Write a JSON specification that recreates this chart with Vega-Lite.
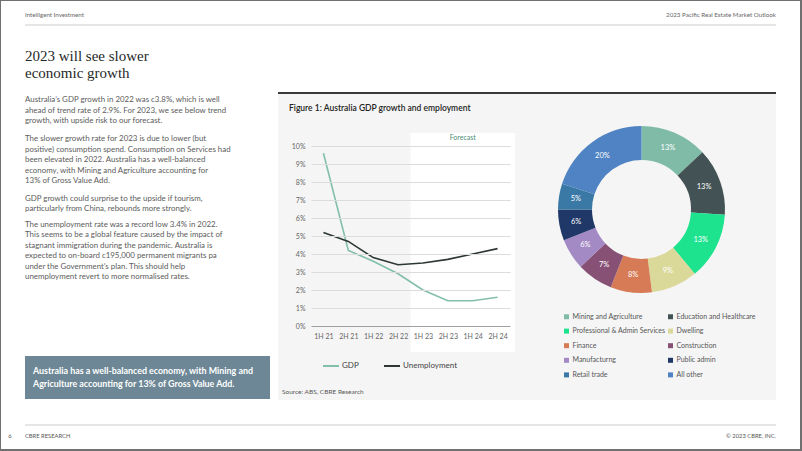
{
  "$schema": "https://vega.github.io/schema/vega-lite/v6.json",
  "background": "#f5f5f5",
  "padding": 0,
  "bounds": "full",
  "spacing": 0,
  "config": {
    "font": "Lato",
    "view": {"stroke": null, "fill": null},
    "title": {"anchor": "start", "frame": "group", "baseline": "top", "offset": 0, "color": "#5b5b5b", "fontWeight": "normal"}
  },
  "datasets": {
    "none": [],
    "note": [{"label": "Forecast"}],
    "header": [
      {"side": "left", "text": "Intelligent Investment"},
      {"side": "right", "text": "2023 Pacific Real Estate Market Outlook"}
    ],
    "footer": [
      {"side": "left", "role": "page", "text": "6"},
      {"side": "left", "role": "label", "text": "CBRE RESEARCH"},
      {"side": "right", "role": "label", "text": "© 2023 CBRE, INC."}
    ],
    "gdp": [
      {"idx": 0, "period": "1H 21", "series": "GDP", "value": 9.6},
      {"idx": 1, "period": "2H 21", "series": "GDP", "value": 4.2},
      {"idx": 2, "period": "1H 22", "series": "GDP", "value": 3.6},
      {"idx": 3, "period": "2H 22", "series": "GDP", "value": 2.9},
      {"idx": 4, "period": "1H 23", "series": "GDP", "value": 2.0},
      {"idx": 5, "period": "2H 23", "series": "GDP", "value": 1.4},
      {"idx": 6, "period": "1H 24", "series": "GDP", "value": 1.4},
      {"idx": 7, "period": "2H 24", "series": "GDP", "value": 1.6},
      {"idx": 0, "period": "1H 21", "series": "Unemployment", "value": 5.2},
      {"idx": 1, "period": "2H 21", "series": "Unemployment", "value": 4.7},
      {"idx": 2, "period": "1H 22", "series": "Unemployment", "value": 3.8},
      {"idx": 3, "period": "2H 22", "series": "Unemployment", "value": 3.4},
      {"idx": 4, "period": "1H 23", "series": "Unemployment", "value": 3.5},
      {"idx": 5, "period": "2H 23", "series": "Unemployment", "value": 3.7},
      {"idx": 6, "period": "1H 24", "series": "Unemployment", "value": 4.0},
      {"idx": 7, "period": "2H 24", "series": "Unemployment", "value": 4.3}
    ],
    "gva": [
      {"rank": 1, "sector": "Mining and Agriculture", "share": 0.13},
      {"rank": 2, "sector": "Education and Healthcare", "share": 0.13},
      {"rank": 3, "sector": "Professional & Admin Services", "share": 0.13},
      {"rank": 4, "sector": "Dwelling", "share": 0.09},
      {"rank": 5, "sector": "Finance", "share": 0.08},
      {"rank": 6, "sector": "Construction", "share": 0.07},
      {"rank": 7, "sector": "Manufacturng", "share": 0.06},
      {"rank": 8, "sector": "Public admin", "share": 0.06},
      {"rank": 9, "sector": "Retail trade", "share": 0.05},
      {"rank": 10, "sector": "All other", "share": 0.20}
    ]
  },
  "hconcat": [
    {"data": {"name": "none"}, "mark": "point", "width": 1, "height": 451, "view": {"fill": "#707070"}},
    {
      "spacing": 0, "bounds": "full",
      "vconcat": [
        {"data": {"name": "none"}, "mark": "point", "width": 799, "height": 1, "view": {"fill": "#707070"}},
        {
          "spacing": 0, "bounds": "flush",
          "hconcat": [
            {"data": {"name": "none"}, "mark": "point", "width": 24, "height": 23, "view": {"fill": "white"}},
            {
              "data": {"name": "header"}, "width": 751, "height": 23, "view": {"fill": "white"},
              "encoding": {"x": {"field": "side", "type": "nominal", "scale": {"type": "point", "domain": ["left", "right"], "padding": 0}, "axis": null}},
              "layer": [
                {"transform": [{"filter": "datum.side === 'left'"}], "mark": {"type": "text", "align": "left", "fontSize": 6.2, "color": "#666666", "dy": 2}, "encoding": {"text": {"field": "text"}}},
                {"transform": [{"filter": "datum.side === 'right'"}], "mark": {"type": "text", "align": "right", "fontSize": 6.2, "color": "#666666", "dy": 2}, "encoding": {"text": {"field": "text"}}}
              ]
            },
            {"data": {"name": "none"}, "mark": "point", "width": 24, "height": 23, "view": {"fill": "white"}}
          ]
        },
        {
          "spacing": 0, "bounds": "flush",
          "hconcat": [
            {"data": {"name": "none"}, "mark": "point", "width": 24, "height": 2, "view": {"fill": "white"}},
            {"data": {"name": "none"}, "mark": "point", "width": 751, "height": 2, "view": {"fill": "#e6e6e6"}},
            {"data": {"name": "none"}, "mark": "point", "width": 24, "height": 2, "view": {"fill": "white"}}
          ]
        },
        {
          "spacing": 0, "bounds": "full",
          "hconcat": [
            {"data": {"name": "none"}, "mark": "point", "width": 24, "height": 398, "view": {"fill": "white"}},
            {
              "spacing": 0, "bounds": "flush",
              "vconcat": [
                {"data": {"name": "none"}, "mark": "point", "width": 245, "height": 59, "view": {"fill": "white"}},
                {"data": {"name": "none"}, "mark": "point", "width": 245, "height": 44, "view": {"fill": "white"},
                 "title": {"text": ["2023 will see slower", "economic growth"], "font": "Liberation Serif", "fontSize": 15, "lineHeight": 16.6, "color": "#1f2a28"}},
                {"data": {"name": "none"}, "mark": "point", "width": 245, "height": 60, "view": {"fill": "white"},
                 "title": {"text": ["Australia’s GDP growth in 2022 was c3.8%, which is well", "ahead of trend rate of 2.9%. For 2023, we see below trend", "growth, with upside risk to our forecast."], "fontSize": 7.9, "lineHeight": 10.5}},
                {"data": {"name": "none"}, "mark": "point", "width": 245, "height": 28, "view": {"fill": "white"},
                 "title": {"text": ["The slower growth rate for 2023 is due to lower (but", "positive) consumption spend. Consumption on Services had", "been elevated in 2022. Australia has a well-balanced", "economy, with Mining and Agriculture accounting for", "13% of Gross Value Add."], "fontSize": 7.9, "lineHeight": 10.5}},
                {"data": {"name": "none"}, "mark": "point", "width": 245, "height": 68, "view": {"fill": "white"},
                 "title": {"text": ["GDP growth could surprise to the upside if tourism,", "particularly from China, rebounds more strongly."], "fontSize": 7.9, "lineHeight": 10.5}},
                {"data": {"name": "none"}, "mark": "point", "width": 245, "height": 71, "view": {"fill": "white"},
                 "title": {"text": ["The unemployment rate was a record low 3.4% in 2022.", "This seems to be a global feature caused by the impact of", "stagnant immigration during the pandemic. Australia is", "expected to on-board c195,000 permanent migrants pa", "under the Government’s plan. This should help", "unemployment revert to more normalised rates."], "fontSize": 7.9, "lineHeight": 10.5}},
                {"data": {"name": "none"}, "mark": "point", "width": 245, "height": 43, "view": {"fill": "#6d8796"},
                 "title": {"text": ["Australia has a well-balanced economy, with Mining and", "Agriculture accounting for 13% of Gross Value Add."], "fontSize": 8.9, "fontWeight": "bold", "lineHeight": 12.6, "color": "white", "dx": 8, "offset": -32.6}},
                {"data": {"name": "none"}, "mark": "point", "width": 245, "height": 25, "view": {"fill": "white"}}
              ]
            },
            {
              "spacing": 0, "bounds": "full",
              "vconcat": [
                {"data": {"name": "none"}, "mark": "point", "width": 506, "height": 66, "view": {"fill": "white"}},
                {
                  "spacing": 0, "bounds": "flush",
                  "hconcat": [
                    {"data": {"name": "none"}, "mark": "point", "width": 8, "height": 2, "view": {"fill": "white"}},
                    {"data": {"name": "none"}, "mark": "point", "width": 498, "height": 2, "view": {"fill": "#3a3a3a"}}
                  ]
                },
                {
                  "spacing": 0, "bounds": "flush",
                  "resolve": {"scale": {"color": "independent"}},
                  "hconcat": [
                    {"data": {"name": "none"}, "mark": "point", "width": 8, "height": 306, "view": {"fill": "white"}},
                    {"data": {"name": "none"}, "mark": "point", "width": 33, "height": 306,
                     "title": {"text": "Source: ABS, CBRE Research", "orient": "bottom", "fontSize": 6.5, "color": "#555555", "dx": 4, "offset": -11.5}},
                    {
                      "width": 199, "height": 258,
                      "title": {"text": "Figure 1: Australia GDP growth and employment", "fontSize": 8.5, "fontWeight": 600, "color": "#222222", "dx": -22, "offset": -18.5},
                      "layer": [
                        {
                          "data": {"name": "note"},
                          "mark": {"type": "rect", "color": "white"},
                          "encoding": {
                            "x": {"datum": 3.5, "type": "quantitative", "scale": {"domain": [-0.5, 7.5], "nice": false, "zero": false},
                                  "axis": {"values": [0, 1, 2, 3, 4, 5, 6, 7], "labelExpr": "['1H 21','2H 21','1H 22','2H 22','1H 23','2H 23','1H 24','2H 24'][datum.value]", "title": null, "grid": false, "domain": false, "ticks": false, "offset": -26, "labelPadding": 6, "labelFontSize": 7, "labelColor": "#666666", "zindex": 1}},
                            "x2": {"datum": 7.7},
                            "y": {"datum": 10.72, "type": "quantitative", "scale": {"domain": [-1.444, 12.889], "nice": false, "zero": false},
                                  "axis": {"values": [0, 1, 2, 3, 4, 5, 6, 7, 8, 9, 10], "labelExpr": "datum.value + '%'", "title": null, "domain": false, "ticks": false, "grid": true, "gridColor": {"condition": {"test": "datum.value === 0", "value": "#a0a0a0"}, "value": "#dcdcdc"}, "labelPadding": 6, "labelFontSize": 7, "labelColor": "#666666", "zindex": 1}},
                            "y2": {"datum": -1.444}
                          }
                        },
                        {
                          "data": {"name": "gdp"},
                          "mark": {"type": "line", "strokeWidth": 1.6},
                          "encoding": {
                            "x": {"field": "idx", "type": "quantitative", "scale": {"domain": [-0.5, 7.5], "nice": false, "zero": false},
                                  "axis": {"values": [0, 1, 2, 3, 4, 5, 6, 7], "labelExpr": "['1H 21','2H 21','1H 22','2H 22','1H 23','2H 23','1H 24','2H 24'][datum.value]", "title": null, "grid": false, "domain": false, "ticks": false, "offset": -26, "labelPadding": 6, "labelFontSize": 7, "labelColor": "#666666", "zindex": 1}},
                            "y": {"field": "value", "type": "quantitative", "scale": {"domain": [-1.444, 12.889], "nice": false, "zero": false},
                                  "axis": {"values": [0, 1, 2, 3, 4, 5, 6, 7, 8, 9, 10], "labelExpr": "datum.value + '%'", "title": null, "domain": false, "ticks": false, "grid": true, "gridColor": {"condition": {"test": "datum.value === 0", "value": "#a0a0a0"}, "value": "#dcdcdc"}, "labelPadding": 6, "labelFontSize": 7, "labelColor": "#666666", "zindex": 1}},
                            "color": {"field": "series", "type": "nominal", "scale": {"domain": ["GDP", "Unemployment"], "range": ["#82bfab", "#2d3836"]},
                                      "legend": {"orient": "bottom", "direction": "horizontal", "title": null, "symbolType": "stroke", "symbolStrokeWidth": 2, "symbolSize": 256, "labelFontSize": 8, "labelColor": "#444444", "labelOffset": 2, "columnPadding": 21, "padding": 11, "offset": -6}}
                          }
                        },
                        {
                          "data": {"name": "note"},
                          "mark": {"type": "text", "fontSize": 7, "color": "#4a8d78", "align": "center"},
                          "encoding": {
                            "x": {"datum": 5.6, "type": "quantitative", "scale": {"domain": [-0.5, 7.5], "nice": false, "zero": false},
                                  "axis": {"values": [0, 1, 2, 3, 4, 5, 6, 7], "labelExpr": "['1H 21','2H 21','1H 22','2H 22','1H 23','2H 23','1H 24','2H 24'][datum.value]", "title": null, "grid": false, "domain": false, "ticks": false, "offset": -26, "labelPadding": 6, "labelFontSize": 7, "labelColor": "#666666", "zindex": 1}},
                            "y": {"datum": 10.44, "type": "quantitative", "scale": {"domain": [-1.444, 12.889], "nice": false, "zero": false},
                                  "axis": {"values": [0, 1, 2, 3, 4, 5, 6, 7, 8, 9, 10], "labelExpr": "datum.value + '%'", "title": null, "domain": false, "ticks": false, "grid": true, "gridColor": {"condition": {"test": "datum.value === 0", "value": "#a0a0a0"}, "value": "#dcdcdc"}, "labelPadding": 6, "labelFontSize": 7, "labelColor": "#666666", "zindex": 1}},
                            "text": {"field": "label"}
                          }
                        }
                      ]
                    },
                    {"data": {"name": "none"}, "mark": "point", "width": 53, "height": 1},
                    {
                      "width": 157, "height": 231,
                      "data": {"name": "gva"},
                      "encoding": {
                        "theta": {"field": "share", "type": "quantitative", "stack": true},
                        "order": {"field": "rank", "type": "quantitative"},
                        "color": {"field": "sector", "type": "nominal",
                                  "scale": {"domain": ["Mining and Agriculture", "Education and Healthcare", "Professional & Admin Services", "Dwelling", "Finance", "Construction", "Manufacturng", "Public admin", "Retail trade", "All other"],
                                            "range": ["#7fbba7", "#435254", "#1de38f", "#dbd99a", "#d77a56", "#875175", "#a48ac4", "#1f3867", "#3a79a6", "#4f83c3"]},
                                  "legend": {"orient": "bottom", "direction": "horizontal", "columns": 2, "title": null, "symbolType": "square", "symbolSize": 25, "labelFontSize": 7, "labelColor": "#555555", "labelOffset": 2.5, "rowPadding": 6.6, "columnPadding": 1, "offset": -12, "padding": 0}}
                      },
                      "layer": [
                        {"mark": {"type": "arc", "innerRadius": 49.5, "outerRadius": 83.5}},
                        {"mark": {"type": "text", "radius": 66.5, "fontSize": 7.5}, "encoding": {"text": {"field": "share", "format": ".0%"}, "color": {"value": "white"}}}
                      ]
                    }
                  ]
                },
                {"data": {"name": "none"}, "mark": "point", "width": 506, "height": 24, "view": {"fill": "white"}}
              ]
            },
            {"data": {"name": "none"}, "mark": "point", "width": 24, "height": 398, "view": {"fill": "white"}}
          ]
        },
        {
          "spacing": 0, "bounds": "flush",
          "hconcat": [
            {"data": {"name": "none"}, "mark": "point", "width": 24, "height": 2, "view": {"fill": "white"}},
            {"data": {"name": "none"}, "mark": "point", "width": 751, "height": 2, "view": {"fill": "#e6e6e6"}},
            {"data": {"name": "none"}, "mark": "point", "width": 24, "height": 2, "view": {"fill": "white"}}
          ]
        },
        {
          "spacing": 0, "bounds": "flush",
          "hconcat": [
            {"data": {"name": "footer"}, "transform": [{"filter": "datum.role === 'page'"}], "width": 24, "height": 23, "view": {"fill": "white"},
             "mark": {"type": "text", "align": "center", "fontSize": 5.8, "color": "#555555", "dx": -3, "dy": -1.5}, "encoding": {"text": {"field": "text"}}},
            {
              "data": {"name": "footer"}, "width": 751, "height": 23, "view": {"fill": "white"},
              "encoding": {"x": {"field": "side", "type": "nominal", "scale": {"type": "point", "domain": ["left", "right"], "padding": 0}, "axis": null}},
              "layer": [
                {"transform": [{"filter": "datum.role === 'label' && datum.side === 'left'"}], "mark": {"type": "text", "align": "left", "fontSize": 5.8, "color": "#555555", "dy": -1.5}, "encoding": {"text": {"field": "text"}}},
                {"transform": [{"filter": "datum.side === 'right'"}], "mark": {"type": "text", "align": "right", "fontSize": 5.8, "color": "#555555", "dy": -1.5}, "encoding": {"text": {"field": "text"}}}
              ]
            },
            {"data": {"name": "none"}, "mark": "point", "width": 24, "height": 23, "view": {"fill": "white"}}
          ]
        },
        {"data": {"name": "none"}, "mark": "point", "width": 799, "height": 2, "view": {"fill": "#707070"}}
      ]
    },
    {"data": {"name": "none"}, "mark": "point", "width": 2, "height": 451, "view": {"fill": "#707070"}}
  ]
}
